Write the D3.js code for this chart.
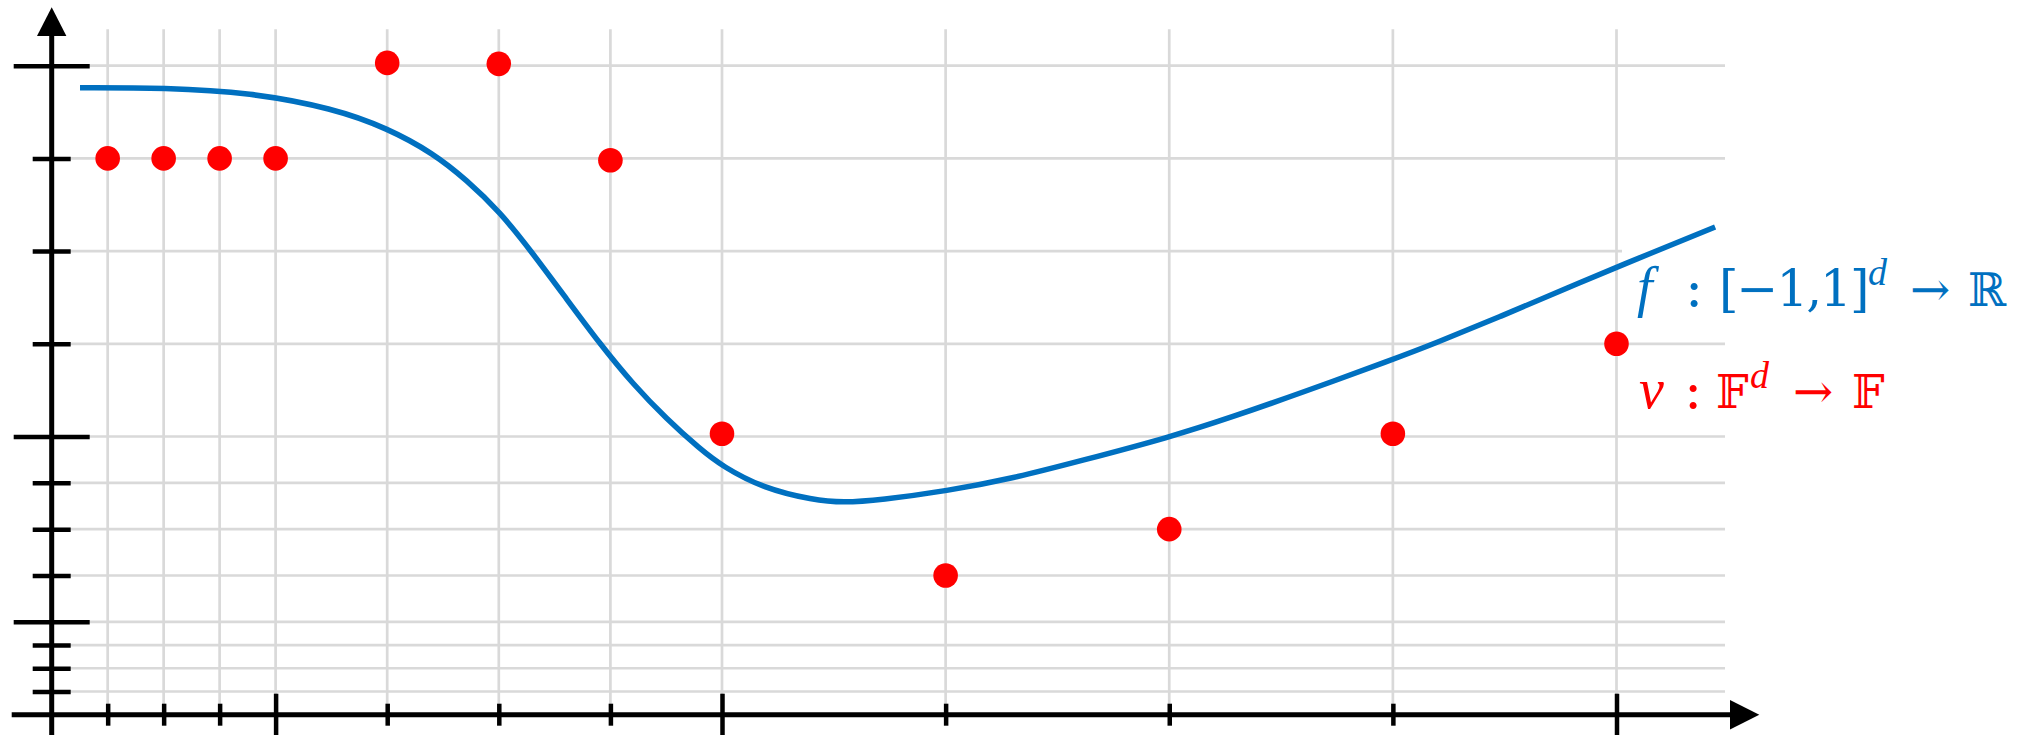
<!DOCTYPE html>
<html>
<head>
<meta charset="utf-8">
<script src="https://cdn.jsdelivr.net/npm/d3@7"></script>
<style>
  html, body { margin: 0; padding: 0; background: #ffffff; }
  svg { display: block; }
</style>
</head>
<body>
<script>
// Tick positions on both axes (unit steps inside three segments that double in size)
const xTicks = [1, 2, 3, 4, 5, 6, 7, 8, 9, 10, 11, 12];
const yTicks = [1, 2, 3, 4, 5, 6, 7, 8, 9, 10, 11, 12];
const majorTicks = [4, 8, 12];

// Sampled values ν at each grid position
const sampleX = [1, 2, 3, 4, 5, 6, 7, 8, 9, 10, 11, 12];
const sampleY = [11, 11, 11, 11, 12.03, 12.02, 10.98, 8.03, 5, 6, 8.03, 9];

// Smooth function f, traced as (x, y) pairs
const curveX = [0.506, 2.024, 3.543, 4.517, 5.004, 5.413, 5.712, 6.011, 6.289, 6.608, 6.907, 7.205, 7.504,
  7.803, 8.003, 8.185, 8.408, 8.542, 8.707, 9.005, 9.303, 9.601, 10.002, 10.286, 10.585, 11.002,
  11.181, 11.479, 11.777, 11.998, 12.441];
const curveY = [11.763, 11.763, 11.711, 11.540, 11.325, 11.055, 10.767, 10.422, 10.001, 9.483, 8.998, 8.561, 8.189,
  7.730, 7.352, 6.882, 6.629, 6.571, 6.629, 6.824, 7.098, 7.471, 7.983, 8.214, 8.466, 8.833,
  8.998, 9.292, 9.599, 9.825, 10.260];

// Legend labels
const fLabel = [
  { t: "f", it: true }, { t: ":", c: true }, { t: "[\u22121,1]", n: true },
  { t: "d", it: true, sup: true }, { t: "\u2192" }, { t: "\u211D", ds: true }
];
const nuLabel = [
  { t: "\u03BD", it: true }, { t: ":", c: true }, { t: "\uD835\uDD3D", ds: true }, { t: "d", it: true, sup: true },
  { t: "\u2192" }, { t: "\uD835\uDD3D", ds: true }
];

const W = 2037, H = 735;
const BLUE = "#0070C0", RED = "#FF0000", GRID = "#D9D9D9";

const svg = d3.select("body").append("svg").attr("width", W).attr("height", H);

// Piecewise-linear scales: each segment of four ticks doubles the step length
const x = d3.scaleLinear().domain([0, 4, 8, 12]).range([51.7, 275.6, 722, 1616.5]);
const y = d3.scaleLinear().domain([0, 4, 8, 12]).range([714.7, 621.8, 436.5, 65.7]);

const gridRight = 1725, gridTop = 29.3;

// Grid
const grid = svg.append("g").attr("stroke", GRID).attr("stroke-width", 2.7);
grid.selectAll("line.v").data(xTicks).join("line").attr("class", "v")
  .attr("x1", d => x(d)).attr("x2", d => x(d))
  .attr("y1", gridTop).attr("y2", y(0));
grid.selectAll("line.h").data(yTicks).join("line").attr("class", "h")
  .attr("x1", x(0)).attr("x2", gridRight)
  .attr("y1", d => y(d)).attr("y2", d => y(d));

// Backing panel for the f label
svg.append("rect").attr("x", 1622).attr("y", 238).attr("width", 415).attr("height", 92).attr("fill", "#ffffff");

// Axes
const xAxis = svg.append("g").attr("transform", `translate(0,${y(0)})`)
  .call(d3.axisBottom(x).tickValues(xTicks).tickFormat(""));
xAxis.select(".domain").remove();
xAxis.selectAll(".tick line")
  .attr("y1", d => majorTicks.includes(d) ? -21 : -11)
  .attr("y2", d => majorTicks.includes(d) ? 21 : 11)
  .attr("stroke", "#000").attr("stroke-width", 4.5);

const yAxis = svg.append("g").attr("transform", `translate(${x(0)},0)`)
  .call(d3.axisLeft(y).tickValues(yTicks).tickFormat(""));
yAxis.select(".domain").remove();
yAxis.selectAll(".tick line")
  .attr("x1", d => majorTicks.includes(d) ? -38 : -19)
  .attr("x2", d => majorTicks.includes(d) ? 38 : 19)
  .attr("stroke", "#000").attr("stroke-width", 4.5);

// Axis lines with arrow heads
svg.append("line").attr("x1", 11.7).attr("x2", 1735).attr("y1", y(0)).attr("y2", y(0))
  .attr("stroke", "#000").attr("stroke-width", 5);
svg.append("path").attr("d", `M1759.3,${y(0)} L1730,${y(0) - 14.7} L1730,${y(0) + 14.7} Z`).attr("fill", "#000");
svg.append("line").attr("x1", x(0)).attr("x2", x(0)).attr("y1", 32).attr("y2", H)
  .attr("stroke", "#000").attr("stroke-width", 5);
svg.append("path").attr("d", `M${x(0)},7.3 L${x(0) - 14.7},36 L${x(0) + 14.7},36 Z`).attr("fill", "#000");

// Function f (B-spline through the traced points for a smooth stroke)
const pts = curveX.map((d, i) => [d, curveY[i]]);
svg.append("path").datum(pts)
  .attr("d", d3.line().x(d => x(d[0])).y(d => y(d[1])).curve(d3.curveBasis))
  .attr("fill", "none").attr("stroke", BLUE).attr("stroke-width", 5.5)
  .attr("stroke-linejoin", "round");

// Samples ν
svg.append("g").selectAll("circle").data(sampleX.map((d, i) => [d, sampleY[i]])).join("circle")
  .attr("cx", d => x(d[0])).attr("cy", d => y(d[1])).attr("r", 12.3).attr("fill", RED);

// Labels: italic letters in a Times-like face, the rest in DejaVu
const SERIF = "'DejaVu Serif', 'DejaVu Sans', serif";
const ITAL = "'Liberation Serif', 'DejaVu Serif', serif";
function drawLabel(parts, xs, baseline, supBase, color) {
  const t = svg.append("text").attr("fill", color);
  parts.forEach((p, i) => {
    const size = p.sup ? 38 : p.it ? 56 : p.ds ? 46 : p.n ? 50 : p.c ? 54 : 48;
    t.append("tspan").text(p.t)
      .attr("x", xs[i]).attr("y", p.sup ? supBase : baseline)
      .style("font-family", p.it ? ITAL : SERIF)
      .style("font-style", p.it ? "italic" : "normal")
      .style("letter-spacing", p.n ? "-2px" : null)
      .style("font-size", size + "px");
  });
}
drawLabel(fLabel, [1637, 1685, 1719, 1868, 1910, 1968], 306, 285, BLUE);
drawLabel(nuLabel, [1639, 1684, 1716, 1750, 1793, 1852], 408, 388, RED);
</script>
</body>
</html>
